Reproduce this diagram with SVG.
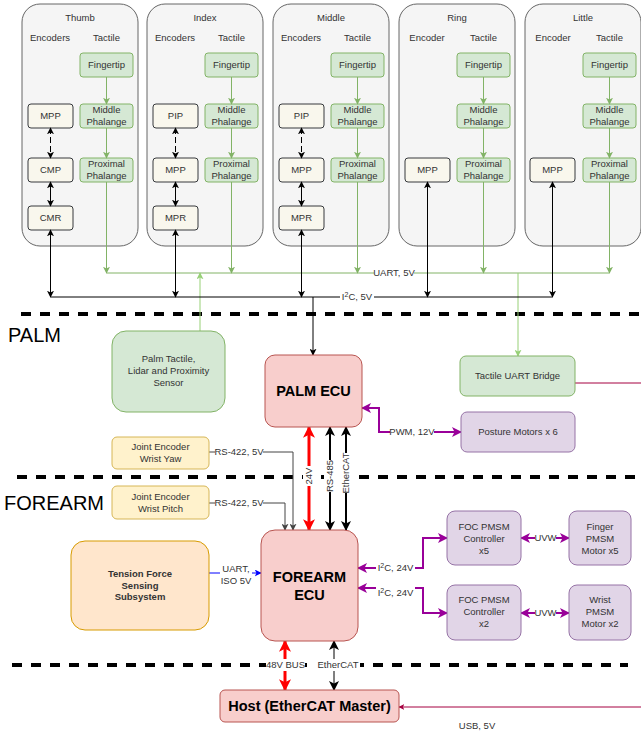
<svg xmlns="http://www.w3.org/2000/svg" width="641" height="735" viewBox="0 0 641 735">
<style>
text{font-family:"Liberation Sans",Arial,Helvetica,sans-serif;font-size:9.5px;fill:#333;text-anchor:middle}
.bd{font-weight:bold;fill:#000}
.big{font-size:14.5px}
.sec{font-size:20px;fill:#000;text-anchor:start}
.pn{fill:#f5f5f5;stroke:#666;stroke-width:1}
.enc{fill:#f9f7ed;stroke:#36393d;stroke-width:1}
.tac{fill:#d5e8d4;stroke:#82b366;stroke-width:1}
.ecu{fill:#f8cecc;stroke:#b85450;stroke-width:1}
.pur{fill:#e1d5e7;stroke:#9673a6;stroke-width:1}
.yel{fill:#fff2cc;stroke:#d6b656;stroke-width:1}
.ora{fill:#ffe6cc;stroke:#d79b00;stroke-width:1}
.bg{fill:#fff}
.sep{stroke:#000;stroke-width:4;stroke-dasharray:10 9;fill:none}
.lk{stroke:#000;stroke-width:1;fill:none}
.lg{stroke:#82b366;stroke-width:1;fill:none}
.lg2{stroke:#97d077;stroke-width:1;fill:none}
.gr{stroke:#444;stroke-width:1;fill:none}
.red{stroke:#ff0000;stroke-width:3;fill:none}
.kk{stroke:#000;stroke-width:2;fill:none}
.pp{stroke:#990099;stroke-width:2;fill:none}
.bl{stroke:#0000ff;stroke-width:1;fill:none}
.cr{stroke:#a50040;stroke-width:1;fill:none}
</style>
<defs>
<marker id="ak" viewBox="0 0 10 10" refX="9" refY="5" markerWidth="7" markerHeight="7" markerUnits="userSpaceOnUse" orient="auto-start-reverse"><path d="M0,0 L10,5 L0,10 L2.5,5 z" fill="#000"/></marker>
<marker id="ag" viewBox="0 0 10 10" refX="9" refY="5" markerWidth="7" markerHeight="7" markerUnits="userSpaceOnUse" orient="auto-start-reverse"><path d="M0,0 L10,5 L0,10 L2.5,5 z" fill="#82b366"/></marker>
<marker id="ag2" viewBox="0 0 10 10" refX="9" refY="5" markerWidth="7" markerHeight="7" markerUnits="userSpaceOnUse" orient="auto-start-reverse"><path d="M0,0 L10,5 L0,10 L2.5,5 z" fill="#97d077"/></marker>
<marker id="agr" viewBox="0 0 10 10" refX="9" refY="5" markerWidth="7" markerHeight="7" markerUnits="userSpaceOnUse" orient="auto-start-reverse"><path d="M0,0 L10,5 L0,10 L2.5,5 z" fill="#444"/></marker>
<marker id="ar" viewBox="0 0 10 10" refX="9" refY="5" markerWidth="12" markerHeight="12" markerUnits="userSpaceOnUse" orient="auto-start-reverse"><path d="M0,0 L10,5 L0,10 L2.5,5 z" fill="#ff0000"/></marker>
<marker id="akk" viewBox="0 0 10 10" refX="9" refY="5" markerWidth="10" markerHeight="10" markerUnits="userSpaceOnUse" orient="auto-start-reverse"><path d="M0,0 L10,5 L0,10 L2.5,5 z" fill="#000"/></marker>
<marker id="ap" viewBox="0 0 10 10" refX="9" refY="5" markerWidth="10" markerHeight="10" markerUnits="userSpaceOnUse" orient="auto-start-reverse"><path d="M0,0 L10,5 L0,10 L2.5,5 z" fill="#990099"/></marker>
<marker id="ab" viewBox="0 0 10 10" refX="9" refY="5" markerWidth="7" markerHeight="7" markerUnits="userSpaceOnUse" orient="auto-start-reverse"><path d="M0,0 L10,5 L0,10 L2.5,5 z" fill="#0000ff"/></marker>
<marker id="ac" viewBox="0 0 10 10" refX="9" refY="5" markerWidth="6" markerHeight="6" markerUnits="userSpaceOnUse" orient="auto-start-reverse"><path d="M0,0 L10,5 L0,10 L2.5,5 z" fill="#a50040"/></marker>
</defs>

<g id="separators">
<path class="sep" d="M21,314 H641"/>
<path class="sep" d="M17,477 H641"/>
<path class="sep" d="M12,665 H628"/>
<text class="sec" x="8" y="342">PALM</text>
<text class="sec" x="4" y="510">FOREARM</text>
</g>

<g id="thumb"><rect class="pn" x="22" y="4" width="116" height="242" rx="18"/><text x="80" y="20.5">Thumb</text><text x="50" y="40.5">Encoders</text><text x="106.5" y="40.5">Tactile</text></g>
<g id="index"><rect class="pn" x="147" y="4" width="116" height="242" rx="18"/><text x="205" y="20.5">Index</text><text x="175" y="40.5">Encoders</text><text x="231.5" y="40.5">Tactile</text></g>
<g id="middle"><rect class="pn" x="273" y="4" width="116" height="242" rx="18"/><text x="331" y="20.5">Middle</text><text x="301" y="40.5">Encoders</text><text x="357.5" y="40.5">Tactile</text></g>
<g id="ring"><rect class="pn" x="399" y="4" width="116" height="242" rx="18"/><text x="457" y="20.5">Ring</text><text x="427" y="40.5">Encoder</text><text x="483.5" y="40.5">Tactile</text></g>
<g id="little"><rect class="pn" x="525" y="4" width="116" height="242" rx="18"/><text x="583" y="20.5">Little</text><text x="553" y="40.5">Encoder</text><text x="609.5" y="40.5">Tactile</text></g>

<g id="thumb-mpp"><rect class="enc" x="28" y="104" width="45" height="24" rx="3"/><text x="50.5" y="119.4">MPP</text></g>
<g id="thumb-cmp"><rect class="enc" x="28" y="158" width="45" height="24" rx="3"/><text x="50.5" y="173.4">CMP</text></g>
<g id="thumb-cmr"><rect class="enc" x="28" y="206" width="45" height="24" rx="3"/><text x="50.5" y="221.4">CMR</text></g>
<g id="index-pip"><rect class="enc" x="153" y="104" width="45" height="24" rx="3"/><text x="175.5" y="119.4">PIP</text></g>
<g id="index-mpp"><rect class="enc" x="153" y="158" width="45" height="24" rx="3"/><text x="175.5" y="173.4">MPP</text></g>
<g id="index-mpr"><rect class="enc" x="153" y="206" width="45" height="24" rx="3"/><text x="175.5" y="221.4">MPR</text></g>
<g id="middle-pip"><rect class="enc" x="279" y="104" width="45" height="24" rx="3"/><text x="301.5" y="119.4">PIP</text></g>
<g id="middle-mpp"><rect class="enc" x="279" y="158" width="45" height="24" rx="3"/><text x="301.5" y="173.4">MPP</text></g>
<g id="middle-mpr"><rect class="enc" x="279" y="206" width="45" height="24" rx="3"/><text x="301.5" y="221.4">MPR</text></g>
<g id="ring-mpp"><rect class="enc" x="405" y="158" width="45" height="24" rx="3"/><text x="427.5" y="173.4">MPP</text></g>
<g id="little-mpp"><rect class="enc" x="530" y="158" width="45" height="24" rx="3"/><text x="552.5" y="173.4">MPP</text></g>

<g id="thumb-tip"><rect class="tac" x="80" y="53" width="53" height="24" rx="3"/><text x="106.5" y="68.4">Fingertip</text></g>
<g id="thumb-mid"><rect class="tac" x="80" y="104" width="53" height="24" rx="3"/><text x="106.5" y="113.4">Middle</text><text x="106.5" y="125.4">Phalange</text></g>
<g id="thumb-prox"><rect class="tac" x="80" y="158" width="53" height="24" rx="3"/><text x="106.5" y="166.9">Proximal</text><text x="106.5" y="178.9">Phalange</text></g>
<g id="index-tip"><rect class="tac" x="205" y="53" width="53" height="24" rx="3"/><text x="231.5" y="68.4">Fingertip</text></g>
<g id="index-mid"><rect class="tac" x="205" y="104" width="53" height="24" rx="3"/><text x="231.5" y="113.4">Middle</text><text x="231.5" y="125.4">Phalange</text></g>
<g id="index-prox"><rect class="tac" x="205" y="158" width="53" height="24" rx="3"/><text x="231.5" y="166.9">Proximal</text><text x="231.5" y="178.9">Phalange</text></g>
<g id="middle-tip"><rect class="tac" x="331" y="53" width="53" height="24" rx="3"/><text x="357.5" y="68.4">Fingertip</text></g>
<g id="middle-mid"><rect class="tac" x="331" y="104" width="53" height="24" rx="3"/><text x="357.5" y="113.4">Middle</text><text x="357.5" y="125.4">Phalange</text></g>
<g id="middle-prox"><rect class="tac" x="331" y="158" width="53" height="24" rx="3"/><text x="357.5" y="166.9">Proximal</text><text x="357.5" y="178.9">Phalange</text></g>
<g id="ring-tip"><rect class="tac" x="457" y="53" width="53" height="24" rx="3"/><text x="483.5" y="68.4">Fingertip</text></g>
<g id="ring-mid"><rect class="tac" x="457" y="104" width="53" height="24" rx="3"/><text x="483.5" y="113.4">Middle</text><text x="483.5" y="125.4">Phalange</text></g>
<g id="ring-prox"><rect class="tac" x="457" y="158" width="53" height="24" rx="3"/><text x="483.5" y="166.9">Proximal</text><text x="483.5" y="178.9">Phalange</text></g>
<g id="little-tip"><rect class="tac" x="583" y="53" width="53" height="24" rx="3"/><text x="609.5" y="68.4">Fingertip</text></g>
<g id="little-mid"><rect class="tac" x="583" y="104" width="53" height="24" rx="3"/><text x="609.5" y="113.4">Middle</text><text x="609.5" y="125.4">Phalange</text></g>
<g id="little-prox"><rect class="tac" x="583" y="158" width="53" height="24" rx="3"/><text x="609.5" y="166.9">Proximal</text><text x="609.5" y="178.9">Phalange</text></g>

<g id="connectors">
<path class="lg" d="M106.5,77 V104" marker-end="url(#ag)"/><path class="lg" d="M106.5,128 V158" marker-end="url(#ag)"/><path class="lg" d="M106.5,182 V273" marker-end="url(#ag)"/>
<path class="lg" d="M231.5,77 V104" marker-end="url(#ag)"/><path class="lg" d="M231.5,128 V158" marker-end="url(#ag)"/><path class="lg" d="M231.5,182 V273" marker-end="url(#ag)"/>
<path class="lg" d="M357.5,77 V104" marker-end="url(#ag)"/><path class="lg" d="M357.5,128 V158" marker-end="url(#ag)"/><path class="lg" d="M357.5,182 V273" marker-end="url(#ag)"/>
<path class="lg" d="M483.5,77 V104" marker-end="url(#ag)"/><path class="lg" d="M483.5,128 V158" marker-end="url(#ag)"/><path class="lg" d="M483.5,182 V273" marker-end="url(#ag)"/>
<path class="lg" d="M609.5,77 V104" marker-end="url(#ag)"/><path class="lg" d="M609.5,128 V158" marker-end="url(#ag)"/><path class="lg" d="M609.5,182 V273" marker-end="url(#ag)"/>
<path class="lg" d="M106.5,273 H609.5"/>
<rect class="bg" x="374" y="267" width="40" height="12"/>
<text x="394" y="276.4">UART, 5V</text>
<path class="lg2" d="M200,331 V273" marker-end="url(#ag2)"/>
<path class="lg2" d="M518,273 V356" marker-end="url(#ag2)"/>
<path class="lk" d="M50.5,128 V158" stroke-dasharray="6 3" marker-start="url(#ak)" marker-end="url(#ak)"/>
<path class="lk" d="M50.5,182 V206" marker-start="url(#ak)" marker-end="url(#ak)"/>
<path class="lk" d="M50.5,230 V297" marker-start="url(#ak)" marker-end="url(#ak)"/>
<path class="lk" d="M175.5,128 V158" stroke-dasharray="6 3" marker-start="url(#ak)" marker-end="url(#ak)"/>
<path class="lk" d="M175.5,182 V206" marker-start="url(#ak)" marker-end="url(#ak)"/>
<path class="lk" d="M175.5,230 V297" marker-start="url(#ak)" marker-end="url(#ak)"/>
<path class="lk" d="M301.5,128 V158" stroke-dasharray="6 3" marker-start="url(#ak)" marker-end="url(#ak)"/>
<path class="lk" d="M301.5,182 V206" marker-start="url(#ak)" marker-end="url(#ak)"/>
<path class="lk" d="M301.5,230 V297" marker-start="url(#ak)" marker-end="url(#ak)"/>
<path class="lk" d="M427.5,182 V297" marker-start="url(#ak)" marker-end="url(#ak)"/>
<path class="lk" d="M552.5,182 V297" marker-start="url(#ak)" marker-end="url(#ak)"/>
<path class="lk" d="M50.5,297 H552.5"/>
<path class="lk" d="M313,297 V355" marker-end="url(#ak)"/>
<rect class="bg" x="340" y="291" width="34" height="12"/>
<text x="357" y="300.4">I<tspan font-size="7" dy="-3.5">2</tspan><tspan dy="3.5">C, 5V</tspan></text>
<path class="pp" d="M362,408 H379 V432 H461" marker-start="url(#ap)" marker-end="url(#ap)"/>
<rect class="bg" x="390" y="426" width="44" height="12"/>
<text x="412" y="435.4">PWM, 12V</text>
<path class="cr" d="M575,383 H641"/>
<path class="cr" d="M641,707 H399" marker-end="url(#ac)"/>
<text x="477" y="729.4">USB, 5V</text>
<path class="gr" d="M209,452 H293 V530" marker-end="url(#agr)"/>
<rect class="bg" x="215" y="446" width="48" height="12"/>
<text x="239" y="455.4">RS-422, 5V</text>
<path class="gr" d="M209,503 H285 V530" marker-end="url(#agr)"/>
<rect class="bg" x="215" y="497" width="48" height="12"/>
<text x="239" y="506.4">RS-422, 5V</text>
<path class="red" d="M309,427 V530" marker-start="url(#ar)" marker-end="url(#ar)"/>
<path class="kk" d="M330,427 V530" marker-start="url(#akk)" marker-end="url(#akk)"/>
<path class="kk" d="M346,427 V530" marker-start="url(#akk)" marker-end="url(#akk)"/>
<g transform="rotate(-90 309 476)"><rect class="bg" x="299" y="470" width="20" height="12"/><text x="309" y="479.4">24V</text></g>
<g transform="rotate(-90 330 476)"><rect class="bg" x="314" y="470" width="32" height="12"/><text x="330" y="479.4">RS-485</text></g>
<g transform="rotate(-90 346 473)"><rect class="bg" x="326" y="467" width="40" height="12"/><text x="346" y="476.4">EtherCAT</text></g>
<path class="bl" d="M209,573 H261" marker-end="url(#ab)"/>
<rect class="bg" x="220" y="562" width="32" height="24"/>
<text x="236" y="572">UART,</text>
<text x="236" y="583.5">ISO 5V</text>
<path class="pp" d="M358,568 H423 V538 H447" marker-start="url(#ap)" marker-end="url(#ap)"/>
<rect class="bg" x="376" y="562" width="39" height="12"/>
<text x="395.5" y="571.4">I<tspan font-size="7" dy="-3.5">2</tspan><tspan dy="3.5">C, 24V</tspan></text>
<path class="pp" d="M358,588 H423 V613 H447" marker-start="url(#ap)" marker-end="url(#ap)"/>
<rect class="bg" x="376" y="587" width="39" height="12"/>
<text x="395.5" y="596.4">I<tspan font-size="7" dy="-3.5">2</tspan><tspan dy="3.5">C, 24V</tspan></text>
<path class="pp" d="M521,538 H569" marker-start="url(#ap)" marker-end="url(#ap)"/>
<rect class="bg" x="535" y="533" width="21" height="10"/>
<text x="545.5" y="541.2" font-size="8.5">UVW</text>
<path class="pp" d="M521,613 H569" marker-start="url(#ap)" marker-end="url(#ap)"/>
<rect class="bg" x="535" y="608" width="21" height="10"/>
<text x="545.5" y="616.2" font-size="8.5">UVW</text>
<path class="red" d="M285,641 V690" marker-start="url(#ar)" marker-end="url(#ar)"/>
<rect class="bg" x="266" y="659" width="39" height="12"/>
<text x="285.5" y="668.4">48V BUS</text>
<path class="lk" d="M334,641 V690" stroke-width="1.5" marker-start="url(#akk)" marker-end="url(#akk)"/>
<rect class="bg" x="316" y="659" width="44" height="12"/>
<text x="338" y="668.4">EtherCAT</text>
</g>

<g id="palm-tactile"><rect class="tac" x="112" y="331" width="113" height="81" rx="14"/><text x="168.5" y="362.4">Palm Tactile,</text><text x="168.5" y="374.4">Lidar and Proximity</text><text x="168.5" y="386.4">Sensor</text></g>
<g id="palm-ecu"><rect class="ecu" x="265" y="355" width="97" height="72" rx="10"/><text class="bd big" x="313.5" y="396">PALM ECU</text></g>
<g id="tactile-bridge"><rect class="tac" x="460" y="356" width="115" height="40" rx="6"/><text x="517.5" y="379.4">Tactile UART Bridge</text></g>
<g id="posture-motors"><rect class="pur" x="461" y="412" width="114" height="40" rx="6"/><text x="518" y="435.4">Posture Motors x 6</text></g>
<g id="wrist-yaw"><rect class="yel" x="112" y="437" width="97" height="32" rx="5"/><text x="160.5" y="450.1">Joint Encoder</text><text x="160.5" y="462.4">Wrist Yaw</text></g>
<g id="wrist-pitch"><rect class="yel" x="112" y="486" width="97" height="33" rx="5"/><text x="160.5" y="500.4">Joint Encoder</text><text x="160.5" y="512.4">Wrist Pitch</text></g>
<g id="tension"><rect class="ora" x="71" y="541" width="138" height="89" rx="14"/><text class="bd" x="140" y="577" style="fill:#333">Tension Force</text><text class="bd" x="140" y="588.5" style="fill:#333">Sensing</text><text class="bd" x="140" y="600" style="fill:#333">Subsystem</text></g>
<g id="forearm-ecu"><rect class="ecu" x="261" y="530" width="97" height="111" rx="14"/><text class="bd big" x="309.5" y="582">FOREARM</text><text class="bd big" x="309.5" y="600">ECU</text></g>
<g id="foc-x5"><rect class="pur" x="447" y="511" width="74" height="54" rx="8"/><text x="484" y="530.4">FOC PMSM</text><text x="484" y="542.4">Controller</text><text x="484" y="554.4">x5</text></g>
<g id="finger-motor"><rect class="pur" x="569" y="511" width="62" height="54" rx="8"/><text x="600" y="530.4">Finger</text><text x="600" y="542.4">PMSM</text><text x="600" y="554.4">Motor x5</text></g>
<g id="foc-x2"><rect class="pur" x="447" y="585" width="74" height="55" rx="8"/><text x="484" y="603.4">FOC PMSM</text><text x="484" y="615.4">Controller</text><text x="484" y="627.4">x2</text></g>
<g id="wrist-motor"><rect class="pur" x="569" y="585" width="62" height="55" rx="8"/><text x="600" y="603.4">Wrist</text><text x="600" y="615.4">PMSM</text><text x="600" y="627.4">Motor x2</text></g>
<g id="host"><rect class="ecu" x="220" y="690" width="179" height="32" rx="5"/><text class="bd big" x="309.5" y="711.2">Host (EtherCAT Master)</text></g>
</svg>
